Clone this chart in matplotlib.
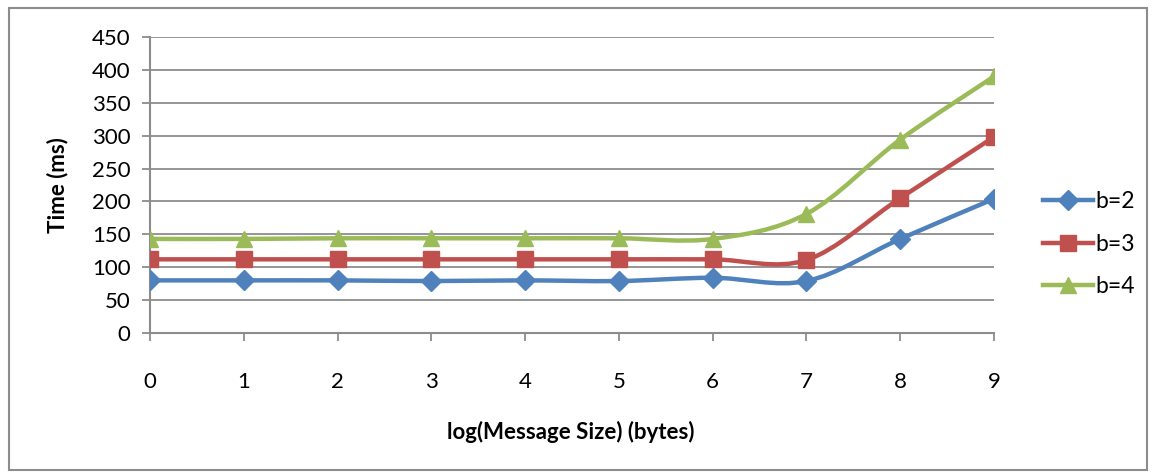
import numpy as np
import matplotlib.pyplot as plt
from matplotlib.path import Path
from matplotlib.patches import PathPatch, Rectangle
from matplotlib.lines import Line2D

x = [0, 1, 2, 3, 4, 5, 6, 7, 8, 9]
b2 = [80, 80, 80, 79, 80, 79, 84, 79, 143, 204]
b3 = [112, 112, 112, 112, 112, 112, 112, 111, 205, 298]
b4 = [143, 143, 144, 144, 144, 144, 143, 181, 294, 390]
labels = ['b=2', 'b=3', 'b=4']
colors = ['#4F81BD', '#C0504D', '#9BBB59']
markers = ['D', 's', '^']
msizes = [10, 12, 12]

plt.rcParams['font.family'] = ['Lato', 'DejaVu Sans']

def smooth_path(xs, ys):
    # excel-like smoothed line: cubic bezier through the points
    xs = np.asarray(xs, float)
    ys = np.asarray(ys, float)
    n = len(xs)
    verts = [(xs[0], ys[0])]
    codes = [Path.MOVETO]
    for i in range(n - 1):
        x0, y0 = (xs[i - 1], ys[i - 1]) if i > 0 else (xs[i], ys[i])
        x3, y3 = (xs[i + 2], ys[i + 2]) if i + 2 < n else (xs[i + 1], ys[i + 1])
        c1 = (xs[i] + (xs[i + 1] - x0) / 6, ys[i] + (ys[i + 1] - y0) / 6)
        c2 = (xs[i + 1] - (x3 - xs[i]) / 6, ys[i + 1] - (y3 - ys[i]) / 6)
        verts += [c1, c2, (xs[i + 1], ys[i + 1])]
        codes += [Path.CURVE4] * 3
    return Path(verts, codes)

fig = plt.figure(figsize=(11.55, 4.76), dpi=100)
ax = fig.add_axes([0.1299, 0.3004, 0.7307, 0.6219])

handles = []
for ys, lab, c, m, ms in zip([b2, b3, b4], labels, colors, markers, msizes):
    ax.add_patch(PathPatch(smooth_path(x, ys), facecolor='none', edgecolor=c, lw=3.2, zorder=3))
    ax.plot(x, ys, linestyle='none', marker=m, color=c, markersize=ms, zorder=4)
    handles.append(Line2D([], [], color=c, lw=3.2, marker=m, markersize=ms, label=lab))

ax.set_xlim(0, 9)
ax.set_ylim(0, 450)
ax.set_xticks(x)
ax.set_yticks(range(0, 451, 50))
ax.yaxis.grid(True, color='#8c8c8c', lw=1.3)
ax.set_axisbelow(True)
for s in ['top', 'right']:
    ax.spines[s].set_visible(False)
for s in ['left', 'bottom']:
    ax.spines[s].set_color('#8c8c8c')
    ax.spines[s].set_linewidth(1.5)
ax.tick_params(axis='both', color='#8c8c8c', width=1.3, length=6, labelsize=16)
ax.tick_params(axis='x', pad=22)
ax.tick_params(axis='y', pad=8)

ax.set_xlabel('log(Message Size) (bytes)', fontsize=16, fontweight='bold')
ax.set_ylabel('Time (ms)', fontsize=16, fontweight='bold')
ax.xaxis.set_label_coords(0.499, -0.334)
ax.yaxis.set_label_coords(-0.110, 0.5)
ax.xaxis.label.set_va('center')
ax.yaxis.label.set_va('center')

fig.legend(handles=handles, loc='center left', bbox_to_anchor=(0.885, 0.487),
           frameon=False, fontsize=16.5, labelspacing=0.95, handlelength=2.2,
           handletextpad=0.1)

fig.patches.append(Rectangle((0.008, 0.013), 0.985, 0.97, transform=fig.transFigure,
                             fill=False, edgecolor='#8c8c8c', lw=1.5))

fig.savefig('out.png', dpi=100)
